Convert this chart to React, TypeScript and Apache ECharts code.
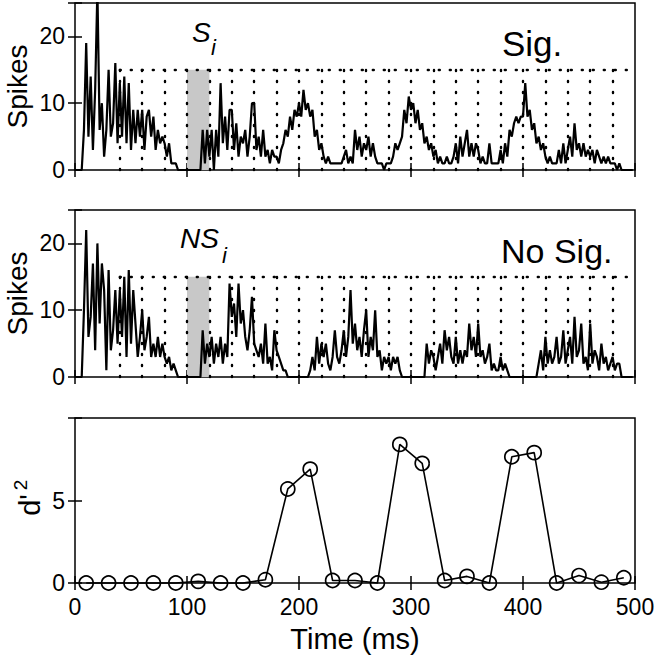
import React, { useEffect, useRef } from "react";
import * as echarts from "echarts";

// Spike counts in 2 ms bins (bin start = index * 2 ms)
const BIN_MS = 2;
const sigCounts = [
  0, 0, 0, 0, 6, 19, 5, 14, 3, 12, 27, 6, 10, 2, 6, 15, 5, 7, 16, 4,
  13, 5, 14, 4, 13, 3, 9, 4, 9, 5, 9, 3, 8, 9, 5, 8, 3, 6, 4, 5,
  4, 2, 4, 1, 1, 1, 0, 0, 0, 0, 0, 0, 0, 0, 0, 0, 0, 6, 1, 6,
  2, 6, 0, 6, 2, 13, 4, 8, 3, 9, 9, 3, 7, 2, 5, 4, 6, 2, 5, 10,
  10, 3, 5, 2, 6, 2, 3, 1, 3, 2, 2, 1, 3, 4, 6, 5, 8, 6, 9, 8,
  10, 8, 12, 9, 10, 8, 9, 5, 6, 3, 4, 2, 1, 2, 1, 1, 1, 1, 1, 1,
  2, 3, 1, 2, 1, 6, 3, 5, 2, 4, 3, 5, 2, 4, 2, 1, 1, 1, 0, 1,
  1, 1, 2, 4, 3, 4, 5, 9, 7, 11, 9, 10, 7, 9, 6, 7, 4, 5, 3, 4,
  2, 3, 1, 2, 1, 1, 2, 1, 1, 2, 4, 1, 5, 2, 4, 6, 2, 4, 2, 4,
  3, 1, 2, 1, 1, 4, 1, 1, 1, 1, 3, 1, 4, 2, 6, 5, 7, 8, 7, 8,
  8, 13, 8, 9, 6, 7, 4, 5, 3, 4, 2, 1, 2, 1, 1, 1, 3, 1, 4, 1,
  3, 5, 2, 7, 3, 4, 2, 4, 2, 3, 2, 3, 1, 3, 2, 1, 2, 1, 2, 1,
  1, 1, 0, 1, 0, 0, 0, 0, 0, 0,
];
const noSigCounts = [
  0, 0, 0, 0, 10, 22, 6, 9, 17, 4, 20, 8, 17, 13, 1, 16, 4, 7, 13, 5,
  13, 6, 15, 3, 16, 5, 13, 8, 3, 6, 10, 4, 6, 9, 3, 5, 3, 6, 3, 5,
  3, 2, 3, 1, 2, 1, 0, 0, 0, 0, 0, 0, 0, 0, 0, 0, 0, 7, 2, 5,
  3, 6, 2, 5, 3, 6, 2, 5, 3, 14, 9, 11, 6, 14, 8, 10, 6, 4, 7, 12,
  5, 4, 3, 5, 2, 8, 2, 3, 1, 7, 4, 3, 2, 1, 1, 0, 0, 0, 0, 0,
  0, 0, 0, 0, 0, 1, 3, 1, 6, 2, 5, 3, 5, 2, 1, 3, 7, 3, 2, 4,
  7, 3, 6, 13, 5, 8, 4, 6, 3, 7, 10, 3, 6, 4, 10, 3, 4, 1, 3, 2,
  3, 1, 3, 2, 3, 1, 0, 0, 0, 0, 0, 0, 0, 0, 0, 0, 0, 5, 2, 4,
  3, 1, 3, 5, 2, 7, 4, 6, 3, 2, 6, 2, 4, 2, 4, 3, 8, 4, 6, 3,
  8, 3, 4, 2, 3, 5, 1, 2, 1, 1, 3, 1, 2, 1, 0, 0, 0, 0, 0, 0,
  0, 0, 0, 0, 0, 0, 0, 2, 4, 1, 6, 2, 4, 2, 3, 6, 2, 3, 7, 2,
  4, 6, 2, 9, 3, 4, 8, 2, 3, 1, 8, 2, 4, 3, 1, 5, 2, 3, 1, 2,
  3, 1, 2, 2, 0, 0, 0, 0, 0, 0,
];

// d'^2 values
const dprimeTimes = [10, 30, 50, 70, 90, 110, 130, 150, 170, 190, 210, 230, 250, 270, 290, 310, 330, 350, 370, 390, 410, 430, 450, 470, 490];
const dprimeValues = [0, 0, 0, 0, 0, 0.1, 0, 0, 0.2, 5.7, 6.9, 0.15, 0.15, 0, 8.4, 7.25, 0.15, 0.4, 0, 7.65, 7.9, 0, 0.45, 0.05, 0.32];

// Reference dotted grid and analysis window
const refGridTimes = [40, 60, 80, 100, 120, 140, 160, 180, 200, 220, 240, 260, 280, 300, 320, 340, 360, 380, 400, 420, 440, 460, 480];
const refGridLevel = 15;
const refGridStart = 40;
const refGridEnd = 500;
const windowRange = [100, 120];

const FONT = '"Liberation Sans", Arial, Helvetica, sans-serif';

function pairs(counts: number[]) {
  return counts.map((v, i) => [i * BIN_MS, v]);
}

function xAxisDef(gridIndex: number, position: string, labels: boolean, name?: string) {
  return {
    type: "value",
    gridIndex,
    position,
    min: 0,
    max: 500,
    interval: 100,
    name: name || "",
    nameLocation: "middle",
    nameGap: 41,
    nameMoveOverlap: false,
    nameTextStyle: { fontSize: 29, color: "#000", fontFamily: FONT },
    axisLine: { show: false },
    axisTick: { show: true, inside: true, length: 7, lineStyle: { color: "#000", width: 1.5 } },
    axisLabel: { show: labels, fontSize: 23, color: "#000", margin: 12, fontFamily: FONT },
    splitLine: { show: false },
  };
}

function yAxisDef(gridIndex: number, position: string, labels: boolean, max: number, interval: number, name?: string, nameGap?: number) {
  return {
    type: "value",
    gridIndex,
    position,
    min: 0,
    max,
    interval,
    name: name || "",
    nameLocation: "middle",
    nameGap: nameGap || 45,
    nameRotate: 90,
    nameMoveOverlap: false,
    nameTextStyle: { fontSize: 28, color: "#000", fontFamily: FONT, lineHeight: 28 },
    axisLine: { show: false },
    axisTick: { show: true, inside: true, length: 7, lineStyle: { color: "#000", width: 1.5 } },
    axisLabel: {
      show: labels,
      fontSize: 23,
      color: "#000",
      margin: 10,
      fontFamily: FONT,
      formatter: (v: number) => (v % interval === 0 && v < max ? String(v) : ""),
    },
    splitLine: { show: false },
  };
}

function refMarks() {
  const data: any[] = refGridTimes.map((t) => [{ coord: [t, 0] }, { coord: [t, refGridLevel] }]);
  data.push([{ coord: [refGridStart, refGridLevel] }, { coord: [refGridEnd, refGridLevel] }]);
  return {
    markLine: {
      silent: true,
      symbol: ["none", "none"],
      label: { show: false },
      lineStyle: { type: [1, 10], width: 2.4, color: "#000", cap: "round" },
      data,
    },
    markArea: {
      silent: true,
      itemStyle: { color: "#c8c8c8" },
      data: [[{ coord: [windowRange[0], 0] }, { coord: [windowRange[1], refGridLevel] }]],
    },
  };
}

const gridBase = {
  left: 75,
  width: 560,
  show: true,
  borderColor: "#000",
  borderWidth: 1.5,
  backgroundColor: "transparent",
  containLabel: false,
  outerBoundsMode: "none",
};

export default function App() {
  const ref = useRef<HTMLDivElement>(null);
  useEffect(() => {
    if (!ref.current) return;
    const chart = echarts.init(ref.current, undefined, { renderer: "svg" });
    const labelStyle = { fill: "#000", fontFamily: FONT, align: "center", verticalAlign: "middle" };
    const option: any = {
      animation: false,
      backgroundColor: "#fff",
      grid: [
        { ...gridBase, top: 3, height: 167 },
        { ...gridBase, top: 210, height: 167 },
        { ...gridBase, top: 418, height: 165 },
      ],
      xAxis: [
        xAxisDef(0, "bottom", false),
        xAxisDef(0, "top", false),
        xAxisDef(1, "bottom", false),
        xAxisDef(1, "top", false),
        xAxisDef(2, "bottom", true, "Time (ms)"),
        xAxisDef(2, "top", false),
      ],
      yAxis: [
        yAxisDef(0, "left", true, 25, 10, "Spikes", 44),
        yAxisDef(0, "right", false, 25, 10),
        yAxisDef(1, "left", true, 25, 10, "Spikes", 44),
        yAxisDef(1, "right", false, 25, 10),
        yAxisDef(2, "left", true, 10, 5),
        yAxisDef(2, "right", false, 10, 5),
      ],
      series: [
        {
          type: "line",
          xAxisIndex: 0,
          yAxisIndex: 0,
          data: pairs(sigCounts),
          symbol: "none",
          lineStyle: { color: "#000", width: 2.2 },
          ...refMarks(),
        },
        {
          type: "line",
          xAxisIndex: 2,
          yAxisIndex: 2,
          data: pairs(noSigCounts),
          symbol: "none",
          lineStyle: { color: "#000", width: 2.2 },
          ...refMarks(),
        },
        {
          type: "line",
          xAxisIndex: 4,
          yAxisIndex: 4,
          data: dprimeTimes.map((t, i) => [t, dprimeValues[i]]),
          symbol: "circle",
          symbolSize: 14,
          clip: false,
          itemStyle: { color: "rgba(0,0,0,0)", borderColor: "#000", borderWidth: 1.7 },
          lineStyle: { color: "#000", width: 1.6 },
        },
      ],
      graphic: [
        { type: "text", x: 502, y: 43, style: { text: "Sig.", fontSize: 35, fill: "#000", fontFamily: FONT, verticalAlign: "middle" } },
        { type: "text", x: 501, y: 251, style: { text: "No Sig.", fontSize: 34, fill: "#000", fontFamily: FONT, verticalAlign: "middle" } },
        { type: "text", x: 192, y: 32, style: { text: "S", fontSize: 28, fontStyle: "italic", fill: "#000", fontFamily: FONT, verticalAlign: "middle" } },
        { type: "text", x: 211, y: 47, style: { text: "i", fontSize: 22, fontStyle: "italic", fill: "#000", fontFamily: FONT, verticalAlign: "middle" } },
        { type: "text", x: 180, y: 238, style: { text: "NS", fontSize: 28, fontStyle: "italic", fill: "#000", fontFamily: FONT, verticalAlign: "middle" } },
        { type: "text", x: 222, y: 255, style: { text: "i", fontSize: 22, fontStyle: "italic", fill: "#000", fontFamily: FONT, verticalAlign: "middle" } },
        { type: "text", x: 30, y: 505, rotation: Math.PI / 2, style: { ...labelStyle, text: "d'", fontSize: 29 } },
        { type: "text", x: 20, y: 485, rotation: Math.PI / 2, style: { ...labelStyle, text: "2", fontSize: 19 } },
      ],
    };
    chart.setOption(option);
    return () => chart.dispose();
  }, []);
  return <div ref={ref} style={{ position: "absolute", left: 0, top: 0, width: 658, height: 662 }} />;
}
